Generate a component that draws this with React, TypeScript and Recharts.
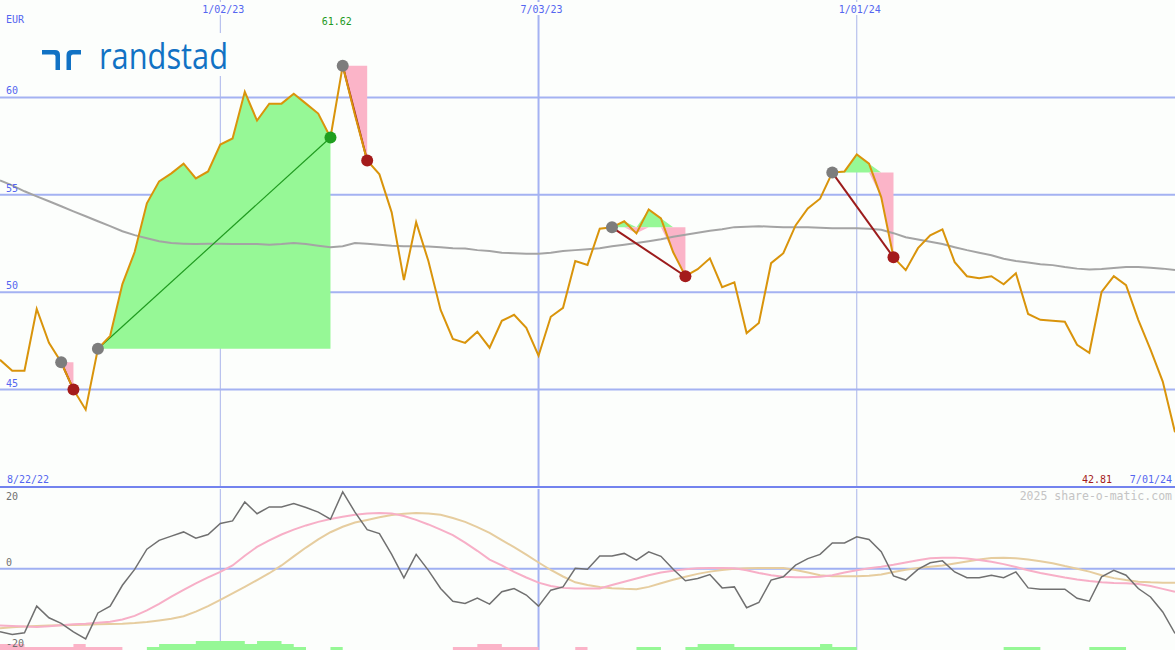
import React from "react";
import { Area, CartesianGrid, ComposedChart, Line, XAxis, YAxis } from "recharts";

// Randstad weekly closes (EUR), 8/29/22 .. 7/01/24, with slow average and
// a momentum oscillator panel underneath. share-o-matic look.

const W = 1175;
const TOP_H = 489;
const BOT_H = 161;
const BG = "#fcfefc";
const MONO = "'DejaVu Sans Mono', monospace";

const closes = [
  46.53, 45.97, 45.97, 49.14, 47.4, 46.4, 45.0, 43.97, 47.1, 47.76,
  50.42, 52.06, 54.56, 55.69, 56.1, 56.6, 55.84, 56.2, 57.58, 57.89,
  60.29, 58.81, 59.68, 59.68, 60.19, 59.68, 59.17, 57.94, 61.62, 59.1,
  56.76, 56.05, 54.1, 50.62, 53.59, 51.6, 49.09, 47.6, 47.4, 47.97,
  47.15, 48.53, 48.84, 48.17, 46.74, 48.74, 49.2, 51.6, 51.4, 53.26,
  53.33, 53.64, 53.02, 54.25, 53.79, 52.05, 50.82, 51.18, 51.74, 50.26,
  50.51, 47.9, 48.42, 51.49, 52.0, 53.43, 54.3, 54.8, 56.14, 56.2,
  57.07, 56.6, 54.87, 51.79, 51.13, 52.26, 52.92, 53.23, 51.54, 50.82,
  50.72, 50.82, 50.41, 50.97, 48.88, 48.58, 48.53, 48.48, 47.3, 46.89,
  50.01, 50.82, 50.36, 48.58, 47.05, 45.41, 42.81,
];

const slowAvg = [
  55.74, 55.48, 55.18, 54.92, 54.67, 54.41, 54.15, 53.9, 53.64, 53.39,
  53.13, 52.93, 52.77, 52.62, 52.52, 52.49, 52.47, 52.49, 52.49, 52.47,
  52.47, 52.47, 52.44, 52.47, 52.52, 52.47, 52.39, 52.31, 52.36, 52.52,
  52.49, 52.44, 52.39, 52.36, 52.36, 52.34, 52.31, 52.26, 52.24, 52.16,
  52.11, 52.03, 52.0, 51.98, 51.98, 52.03, 52.11, 52.16, 52.21, 52.26,
  52.36, 52.44, 52.52, 52.62, 52.72, 52.85, 52.95, 53.05, 53.16, 53.23,
  53.34, 53.36, 53.39, 53.36, 53.34, 53.34, 53.34, 53.31, 53.28, 53.28,
  53.28, 53.26, 53.21, 53.03, 52.82, 52.7, 52.59, 52.47, 52.31, 52.16,
  52.03, 51.9, 51.72, 51.6, 51.52, 51.44, 51.39, 51.29, 51.21, 51.16,
  51.19, 51.24, 51.29, 51.29, 51.26, 51.21, 51.14,
];

const momentum = [
  -19.4, -20.2, -19.7, -11.5, -15.1, -16.8, -19.4, -21.6, -13.6, -11.5,
  -5.1, -0.2, 6.0, 8.7, 10.0, 11.3, 9.4, 10.5, 13.9, 14.7,
  20.5, 16.9, 19.0, 19.0, 20.0, 18.8, 17.4, 15.2, 23.6, 17.4,
  12.0, 10.8, 4.4, -2.8, 4.4, -0.5, -6.1, -10.0, -10.7, -9.0,
  -10.9, -7.1, -6.1, -8.1, -11.5, -6.6, -5.6, 0.1, -0.2, 3.9,
  3.9, 4.7, 2.6, 5.2, 3.8, -0.2, -3.7, -3.0, -1.8, -5.9,
  -5.6, -12.0, -10.4, -3.5, -2.5, 1.1, 3.1, 4.4, 7.9, 7.9,
  9.8, 9.0, 5.2, -2.2, -3.5, -0.2, 1.8, 2.4, -1.0, -2.8,
  -2.8, -2.0, -2.8, -1.0, -5.9, -6.3, -6.3, -6.3, -9.1, -10.0,
  -2.5, -0.5, -2.0, -6.1, -8.7, -13.3, -19.9,
];

const signalFast = [
  -17.5, -17.6, -17.8, -17.9, -17.7, -17.4, -17.1, -16.9, -16.6, -16.3,
  -15.6, -14.5, -12.8, -10.8, -8.6, -6.5, -4.5, -2.7, -1.0, 1.0,
  4.0, 6.7, 8.7, 10.5, 12.0, 13.3, 14.4, 15.3, 16.0, 16.6,
  17.0, 17.1, 17.0, 16.2, 15.0, 13.6, 12.0, 10.3, 8.0, 5.5,
  2.8, 1.0, -1.0, -2.7, -4.3, -5.3, -5.9, -6.1, -6.1, -6.1,
  -5.0, -4.0, -3.0, -2.0, -1.2, -0.6, -0.2, 0.1, 0.2, 0.2,
  0.1, -0.5, -1.3, -2.0, -2.5, -2.6, -2.6, -2.5, -2.0, -1.2,
  -0.5, 0.1, 0.6, 1.2, 1.9, 2.6, 3.2, 3.4, 3.4, 3.1,
  2.7, 2.1, 1.4, 0.5, -0.5, -1.3, -2.0, -2.7, -3.3, -3.8,
  -4.2, -4.4, -4.5, -4.7, -5.3, -6.2, -7.1,
];

const signalSlow = [
  -18.3, -18.0, -17.8, -17.6, -17.5, -17.4, -17.3, -17.2, -17.1, -17.0,
  -16.9, -16.7, -16.4, -15.9, -15.4, -14.6, -13.2, -11.5, -9.6, -7.6,
  -5.6, -3.5, -1.4, 1.0, 3.8, 6.5, 9.0, 11.2, 12.9, 14.2,
  15.0, 15.8, 16.5, 16.9, 17.1, 17.0, 16.6, 15.6, 14.4, 12.8,
  11.0, 8.8, 6.6, 4.3, 1.9, -0.4, -2.4, -4.2, -5.0, -5.6,
  -6.0, -6.2, -6.3, -5.6, -4.5, -3.4, -2.5, -1.6, -0.9, -0.4,
  0.0, 0.1, 0.2, 0.2, 0.2, -0.4, -1.2, -2.0, -2.3, -2.3,
  -2.3, -2.2, -1.8, -1.0, -0.3, 0.2, 0.6, 1.0, 1.6, 2.2,
  2.8, 3.3, 3.4, 3.2, 2.8, 2.3, 1.7, 0.8, 0.0, -0.9,
  -2.0, -2.9, -3.5, -4.0, -4.2, -4.3, -4.3,
];

// little step histogram sitting on the bottom edge (levels 0..3)
const histDown = [
  2, 2, 1, 1, 1, 1, 2, 1, 1, 1,
  0, 0, 0, 0, 0, 0, 0, 0, 0, 0,
  0, 0, 0, 0, 0, 0, 0, 0, 0, 0,
  0, 0, 0, 0, 0, 0, 0, 1, 1, 2,
  2, 1, 1, 1, 0, 0, 0, 1, 0, 0,
  0, 0, 0, 0, 0, 0, 0, 0, 0, 0,
  0, 0, 0, 0, 0, 0, 0, 0, 0, 0,
  0, 0, 0, 0, 0, 0, 0, 0, 0, 0,
  0, 0, 0, 0, 0, 0, 0, 0, 0, 0,
  0, 0, 0, 0, 0, 0, 0,
];
const histUp = [
  0, 0, 0, 0, 0, 0, 0, 0, 0, 0,
  0, 0, 1, 2, 2, 2, 3, 3, 3, 3,
  2, 3, 3, 2, 1, 0, 0, 1, 0, 0,
  0, 0, 0, 0, 0, 0, 0, 0, 0, 0,
  0, 0, 0, 0, 0, 0, 0, 0, 0, 0,
  0, 0, 1, 1, 0, 0, 1, 2, 2, 2,
  1, 1, 1, 1, 1, 1, 1, 2, 1, 1,
  0, 0, 0, 0, 0, 0, 0, 0, 0, 0,
  0, 0, 1, 1, 1, 0, 0, 0, 0, 1,
  1, 1, 0, 0, 0, 0, 0,
];

// swing moves drawn as start/end markers + shaded band against the start level
const moves = [
  { from: 5, to: 6 },
  { from: 8, to: 27 },
  { from: 28, to: 30 },
  { from: 50, to: 56 },
  { from: 68, to: 73 },
];

const dateLines = [
  { i: 18, label: "1/02/23", thick: false },
  { i: 44, label: "7/03/23", thick: true },
  { i: 70, label: "1/01/24", thick: false },
];
const priceTicks = [45, 50, 55, 60];
const oscTicks = [20, 0, -20];
const firstDate = "8/22/22";
const lastDate = "7/01/24";

const N = closes.length;
const X_MAX = N - 1;
const P_DOM: [number, number] = [40, 65];
const O_DOM: [number, number] = [-25, 24.5];

const markKind: Record<number, string> = {};
moves.forEach((m) => {
  markKind[m.from] = "start";
  markKind[m.to] = closes[m.to] >= closes[m.from] ? "up" : "down";
});

const rows = closes.map((p, i) => ({
  i,
  p,
  ma: slowAvg[i],
  m: momentum[i],
  f: signalFast[i],
  s: signalSlow[i],
  hd: histDown[i],
  hu: histUp[i],
  mk: markKind[i] ?? null,
}));

const markFill: Record<string, string> = { start: "#7d7d7d", up: "#1f9f1f", down: "#a41b1b" };

function Marker(props: any) {
  const { cx, cy, payload, index } = props;
  if (!payload || !payload.mk || cx == null || cy == null) return <g key={`mk${index}`} />;
  return <circle key={`mk${index}`} cx={cx} cy={cy} r={6} fill={markFill[payload.mk]} />;
}

const inMove = (m: { from: number; to: number }, i: number) => i >= m.from && i <= m.to;

// label placement helpers (same mapping as the charts: zero margins)
const xOf = (i: number) => (i / X_MAX) * W;
const yTop = (v: number) => ((P_DOM[1] - v) / (P_DOM[1] - P_DOM[0])) * (TOP_H - 2);

export default function App() {
  const hiIdx = closes.indexOf(Math.max(...closes));
  const last = closes[N - 1];

  return (
    <div style={{ position: "relative", width: W, height: TOP_H + BOT_H, background: BG, overflow: "hidden" }}>
      <style>{`html,body{margin:0;padding:0;background:${BG}}`}</style>

      <ComposedChart width={W} height={TOP_H} data={rows} margin={{ top: 0, right: 0, bottom: 2, left: 0 }}>
        <XAxis type="number" dataKey="i" domain={[0, X_MAX]} hide />
        <YAxis type="number" domain={P_DOM} hide allowDataOverflow />
        <CartesianGrid vertical={false} horizontalValues={priceTicks} stroke="#a4b2f2" strokeWidth={2} />
        <CartesianGrid
          horizontal={false}
          verticalValues={dateLines.filter((d) => !d.thick).map((d) => d.i)}
          stroke="#aab5ea"
          strokeWidth={1}
        />
        <CartesianGrid
          horizontal={false}
          verticalValues={dateLines.filter((d) => d.thick).map((d) => d.i)}
          stroke="#a4b2f2"
          strokeWidth={2}
        />
        <CartesianGrid vertical={false} horizontalValues={[P_DOM[0]]} stroke="#7383ee" strokeWidth={2} />

        {moves.map((m, k) => (
          <Area
            key={`up${k}`}
            type="linear"
            dataKey={(d: any) => (inMove(m, d.i) ? [closes[m.from], Math.max(d.p, closes[m.from])] : null)}
            stroke="none"
            fill="#96f896"
            fillOpacity={1}
            dot={false}
            activeDot={false}
            isAnimationActive={false}
          />
        ))}
        {moves.map((m, k) => (
          <Area
            key={`dn${k}`}
            type="linear"
            dataKey={(d: any) => (inMove(m, d.i) ? [Math.min(d.p, closes[m.from]), closes[m.from]] : null)}
            stroke="none"
            fill="#fbb4c8"
            fillOpacity={1}
            dot={false}
            activeDot={false}
            isAnimationActive={false}
          />
        ))}

        <Line type="linear" dataKey="ma" stroke="#a4a4a4" strokeWidth={2} dot={false} activeDot={false} isAnimationActive={false} />

        {moves.map((m, k) => {
          const up = closes[m.to] >= closes[m.from];
          return (
            <Line
              key={`tr${k}`}
              type="linear"
              dataKey={(d: any) => (d.i === m.from || d.i === m.to ? d.p : null)}
              connectNulls
              stroke={up ? "#1f9a1f" : "#9c1c1c"}
              strokeWidth={up ? 1.2 : 2}
              dot={false}
              activeDot={false}
              isAnimationActive={false}
            />
          );
        })}

        <Line type="linear" dataKey="p" stroke="#d9940b" strokeWidth={2} dot={false} activeDot={false} isAnimationActive={false} />
        <Line type="linear" dataKey="p" stroke="none" dot={Marker} activeDot={false} isAnimationActive={false} />
      </ComposedChart>

      <ComposedChart width={W} height={BOT_H} data={rows} margin={{ top: 0, right: 0, bottom: 0, left: 0 }}>
        <XAxis type="number" dataKey="i" domain={[0, X_MAX]} hide />
        <YAxis type="number" domain={O_DOM} hide allowDataOverflow />
        <YAxis yAxisId="h" type="number" domain={[0, 54]} hide />
        <CartesianGrid vertical={false} horizontalValues={[0]} stroke="#a0b0f2" strokeWidth={2} />
        <CartesianGrid
          horizontal={false}
          verticalValues={dateLines.filter((d) => !d.thick).map((d) => d.i)}
          stroke="#aab5ea"
          strokeWidth={1}
        />
        <CartesianGrid
          horizontal={false}
          verticalValues={dateLines.filter((d) => d.thick).map((d) => d.i)}
          stroke="#a4b2f2"
          strokeWidth={2}
        />
        <Area yAxisId="h" type="stepAfter" dataKey="hd" stroke="none" fill="#fbb4c8" fillOpacity={1} dot={false} activeDot={false} isAnimationActive={false} />
        <Area yAxisId="h" type="stepAfter" dataKey="hu" stroke="none" fill="#96f896" fillOpacity={1} dot={false} activeDot={false} isAnimationActive={false} />
        <Line type="linear" dataKey="s" stroke="#e6cd9f" strokeWidth={2} dot={false} activeDot={false} isAnimationActive={false} />
        <Line type="linear" dataKey="f" stroke="#f7afc7" strokeWidth={2} dot={false} activeDot={false} isAnimationActive={false} />
        <Line type="linear" dataKey="m" stroke="#707070" strokeWidth={1.5} dot={false} activeDot={false} isAnimationActive={false} />
      </ComposedChart>

      <svg
        width={W}
        height={TOP_H + BOT_H}
        style={{ position: "absolute", left: 0, top: 0, pointerEvents: "none" }}
        fontFamily={MONO}
        fontSize={10}
      >
        {/* logo */}
        <rect x={36} y={33} width={202} height={43} fill={BG} />
        <path d="M42,50 H55 Q60,50 60,55 V70 H55.5 V56.5 Q55.5,54.5 53.5,54.5 H42 Z" fill="#1172c4" />
        <path d="M81,50 H72 Q66.5,50 66.5,55 V70 H71 V56.5 Q71,54.5 73,54.5 H81 Z" fill="#1172c4" />
        <text x={99} y={69} fontFamily="'Open Sans', sans-serif" fontSize={36} fill="#1172c4" textLength={129} lengthAdjust="spacingAndGlyphs">
          randstad
        </text>

        <text x={6} y={23} fill="#5466f0">EUR</text>
        {priceTicks.map((v) => (
          <text key={v} x={6} y={yTop(v) - 3} fill="#5466f0">
            {v}
          </text>
        ))}
        {dateLines.map((d) => (
          <g key={d.label}>
            <rect x={xOf(d.i) - 19} y={2} width={46} height={13} fill={BG} />
            <text x={xOf(d.i) + 3} y={13} textAnchor="middle" fill="#5466f0">
              {d.label}
            </text>
          </g>
        ))}
        <text x={xOf(hiIdx) - 6} y={25} textAnchor="middle" fill="#1f9a1f">
          {closes[hiIdx].toFixed(2)}
        </text>

        <text x={7} y={483} fill="#5466f0">{firstDate}</text>
        <text x={1112} y={483} textAnchor="end" fill="#a41b1b">{last.toFixed(2)}</text>
        <text x={1172} y={483} textAnchor="end" fill="#5466f0">{lastDate}</text>
        <text x={1172} y={500} textAnchor="end" fill="#c4c4c4" fontSize={11.5}>
          2025 share-o-matic.com
        </text>
        {oscTicks.map((v, k) => (
          <text key={v} x={6} y={[500, 566, 647][k]} fill="#707070">
            {v}
          </text>
        ))}
      </svg>
    </div>
  );
}
